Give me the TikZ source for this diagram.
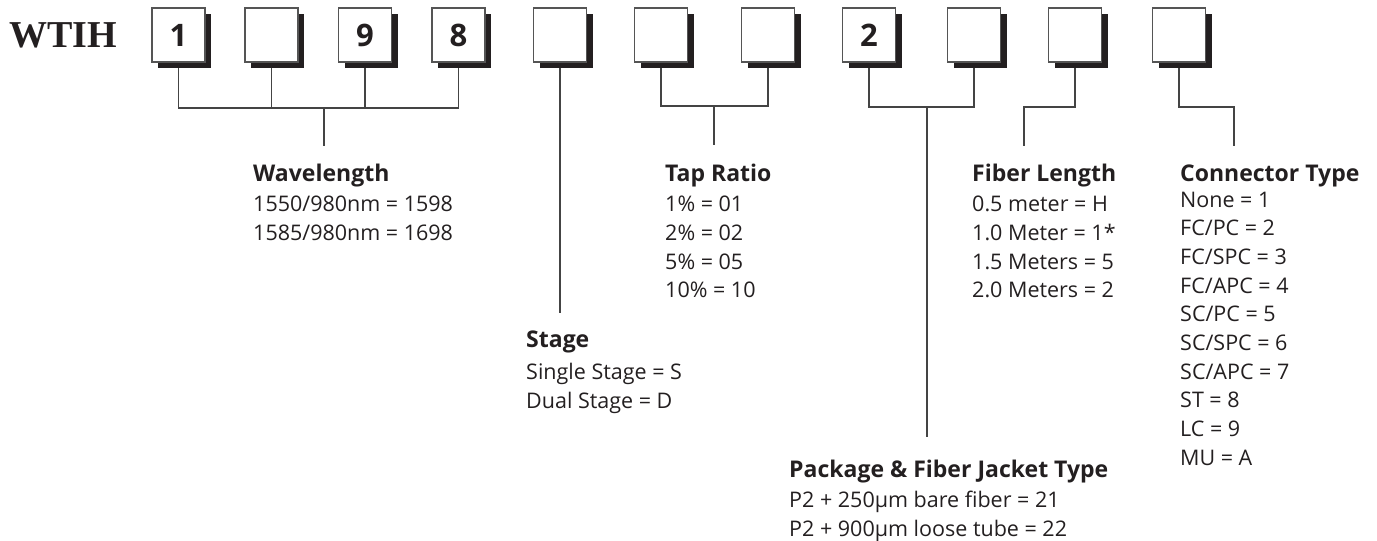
\documentclass[tikz,border=0pt]{standalone}
\usepackage{fontspec}
\setmainfont{Open Sans}
\newfontfamily\wtihfont{Liberation Serif}
\usetikzlibrary{shadows,backgrounds}
\definecolor{ink}{HTML}{231F20}
\definecolor{boxline}{HTML}{555555}
\definecolor{connc}{HTML}{444444}
\newcommand\cblock[3]{\vtop{\baselineskip=28.67pt\lineskiplimit=-100pt\lineskip=0pt\halign{##\hfil\cr{\fontsize{23}{27}\selectfont\bfseries #2}\cr\noalign{\vskip#1}#3\crcr}}}
\tikzset{
  digitbox/.style={draw=boxline, line width=1.4pt, fill=white, minimum width=53pt, minimum height=54pt, inner sep=0pt, text=ink, font=\fontsize{31}{31}\selectfont\bfseries, drop shadow={shadow xshift=6pt, shadow yshift=-6pt, fill=ink, opacity=1}},
  blk/.style={anchor=base west, inner sep=0pt, text=ink, font=\fontsize{21.5}{28.67}\selectfont},
  connline/.style={draw=connc, line width=1.3pt}
}
\begin{document}
\begin{tikzpicture}[x=1pt,y=-1pt]
\useasboundingbox (0,0) rectangle (1377,541);
\node[anchor=base west, inner sep=0pt, text=ink, font=\fontsize{38}{38}\selectfont\wtihfont\bfseries] (wtih) at (9,47) {WTIH};
\node[digitbox] (b1) at (178.5,35) {1};
\node[digitbox] (b2) at (271.5,35) {};
\node[digitbox] (b3) at (365,35) {9};
\node[digitbox] (b4) at (458.5,35) {8};
\node[digitbox] (b5) at (560,35) {};
\node[digitbox] (b6) at (661,35) {};
\node[digitbox] (b7) at (768,35) {};
\node[digitbox] (b8) at (869,35) {2};
\node[digitbox] (b9) at (974,35) {};
\node[digitbox] (b10) at (1075,35) {};
\node[digitbox] (b11) at (1179,35) {};
\coordinate (wlj) at (324,108); \coordinate (wle) at (324,146);
\coordinate (ste) at (560,313);
\coordinate (trj) at (714,106); \coordinate (tre) at (714,145);
\coordinate (pkj) at (927,107); \coordinate (pke) at (927,437);
\coordinate (flj) at (1024,107); \coordinate (fle) at (1024,146);
\coordinate (ctj) at (1234,107); \coordinate (cte) at (1234,146);
\begin{pgfonlayer}{background}
\draw[connline] (b1.south) |- (wlj) -| (b4.south);
\draw[connline] (b2.south) -- (b2.south |- wlj);
\draw[connline] (b3.south) -- (b3.south |- wlj);
\draw[connline] (wlj) -- (wle);
\draw[connline] (b5.south) -- (ste);
\draw[connline] (b6.south) |- (trj) -| (b7.south);
\draw[connline] (trj) -- (tre);
\draw[connline] (b8.south) |- (pkj) -| (b9.south);
\draw[connline] (pkj) -- (pke);
\draw[connline] (b10.south) |- (flj) -- (fle);
\draw[connline] (b11.south) |- (ctj) -- (cte);
\end{pgfonlayer}
\node[blk] (wl) at (253,181) {\cblock{2pt}{Wavelength}{1550/980nm = 1598\cr 1585/980nm = 1698}};
\node[blk] (tr) at (665,181) {\cblock{2.3pt}{Tap Ratio}{1\% = 01\cr 2\% = 02\cr 5\% = 05\cr 10\% = 10}};
\node[blk] (fl) at (972,181) {\cblock{2.3pt}{Fiber Length}{0.5 meter = H\cr 1.0 Meter = 1*\cr 1.5 Meters = 5\cr 2.0 Meters = 2}};
\node[blk] (ct) at (1180,181) {\cblock{-2.67pt}{Connector Type}{None = 1\cr FC/PC = 2\cr FC/SPC = 3\cr FC/APC = 4\cr SC/PC = 5\cr SC/SPC = 6\cr SC/APC = 7\cr ST = 8\cr LC = 9\cr MU = A}};
\node[blk] (st) at (526,347) {\cblock{4.3pt}{Stage}{Single Stage = S\cr Dual Stage = D}};
\node[blk] (pk) at (789,477) {\cblock{2.3pt}{Package \& Fiber Jacket Type}{P2 + 250µm bare fiber = 21\cr P2 + 900µm loose tube = 22}};
\end{tikzpicture}
\end{document}
